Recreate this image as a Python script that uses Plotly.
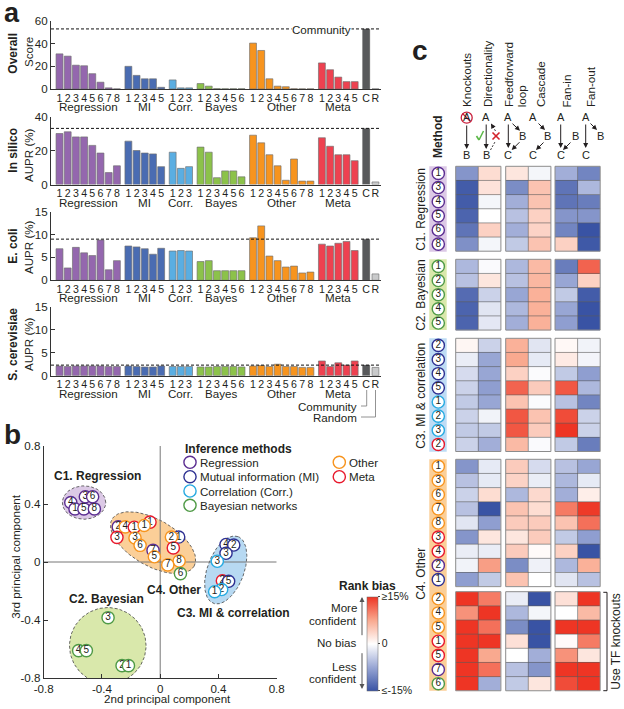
import numpy as np
import plotly.graph_objects as go

W, H = 624, 709
FONT = "Liberation Sans"
INK = "#231f20"

# ---------- panel a data ----------
groups = ["Regression", "MI", "Corr.", "Bayes", "Other", "Meta"]
group_colors = ["#9467ae", "#4a6cb2", "#5aaee2", "#8cc24a", "#f7941e", "#ee4150"]
overall = [[31, 29, 21, 20.5, 13.5, 6, 1, 0.1], [20, 12, 9, 9, 1.5], [8, 1, 1],
           [4.8, 2.5, 0.3, 0.2, 0.2, 0.2], [40.5, 34, 9, 2.5, 2, 0.2, 0.1, 0.1],
           [23, 17, 10.5, 6.5, 6.5]]
in_silico = [[30, 31, 28, 28, 23, 18.5, 7, 11], [25.5, 20, 18.5, 18, 10.5], [19, 9.5, 10.5],
             [22, 19, 4, 8, 8, 4.5], [29, 24.5, 17.5, 11, 2.5, 15, 2, 2],
             [27.5, 22.5, 17.5, 17.5, 14]]
e_coli = [[6.9, 2.7, 7.2, 6, 5.4, 8.8, 2.3, 4.3], [7.5, 7.3, 6.9, 5.7, 7], [6.4, 6.5, 6.4],
          [4.1, 4.3, 2.1, 2.1, 2.1, 2.1], [9.3, 11.9, 5.3, 4.3, 2.9, 3.1, 1.6, 1.8],
          [7.9, 7.5, 8.1, 8.5, 6.5]]
s_cerevisiae = [[2.1, 2, 2.1, 2.1, 2.1, 2.1, 2, 2], [2.1, 2, 1.9, 1.9, 2.1], [2, 2, 2],
                [1.9, 1.9, 2, 2, 2, 1.9], [2.1, 2.2, 2, 2.5, 2, 2, 1.8, 1.8],
                [3.2, 2, 2.8, 2.3, 3.2]]
community = [53, 33, 9, 2.3]
random_pred = [0.1, 1.5, 1.4, 1.8]

# ---------- panel b data ----------
pc_reg = [("4", -0.614, 0.41), ("3", -0.514, 0.45), ("6", -0.464, 0.45),
          ("1", -0.585, 0.366), ("5", -0.524, 0.366), ("8", -0.452, 0.366)]
pc_c4 = [("2", -0.288, 0.242, "reg"), ("1", -0.07, 0.275, "meta"), ("4", -0.24, 0.242, "oth"),
         ("1", -0.178, 0.24, "meta"), ("1", -0.11, 0.252, "oth"), ("3", -0.297, 0.17, "meta"),
         ("3", -0.173, 0.166, "oth"), ("6", -0.138, 0.115, "oth"), ("7", -0.049, 0.08, "reg"),
         ("5", -0.04, 0.036, "oth"), ("1", 0.127, 0.172, "mi"), ("2", 0.077, 0.172, "oth"),
         ("5", 0.09, 0.097, "meta"), ("8", 0.13, 0.007, "oth"), ("7", 0.052, -0.02, "oth"),
         ("6", 0.139, -0.08, "bay")]
pc_c3 = [("4", 0.452, 0.121, "mi"), ("2", 0.505, 0.117, "mi"), ("3", 0.452, 0.06, "mi"),
         ("3", 0.392, 0.005, "cor"), ("2", 0.427, -0.13, "meta"), ("5", 0.47, -0.133, "mi"),
         ("2", 0.422, -0.19, "cor"), ("1", 0.374, -0.205, "cor")]
pc_c2 = [("3", -0.358, -0.384), ("4", -0.56, -0.611), ("5", -0.507, -0.611),
         ("2", -0.262, -0.715), ("1", -0.218, -0.715)]
clusters = [  # centre x, centre y, half axis a, half axis b, angle, fill
    (-0.523, 0.41, 0.149, 0.115, 0, "#dcc9e6"),
    (-0.049, 0.133, 0.325, 0.16, -30, "#fbcf98"),
    (0.45, -0.055, 0.245, 0.126, 70, "#b7d9f2"),
    (-0.36, -0.577, 0.263, 0.263, 0, "#d9e8ab"),
]
ring = {"reg": "#5b2d91", "mi": "#2e3192", "cor": "#27aae1", "bay": "#4f9a46",
        "oth": "#f7941e", "meta": "#e8192c"}
legend_rows = [("reg", "Regression", 190, 198.7, 462.3), ("mi", "Mutual information (MI)", 190, 198.7, 476.7),
               ("cor", "Correlation (Corr.)", 190, 198.7, 491), ("bay", "Bayesian networks", 190, 198.7, 505.3),
               ("oth", "Other", 339.3, 347.7, 462.3), ("meta", "Meta", 339.3, 347.7, 476.7)]

# ---------- panel c data (rank bias, %) ----------
c1_methods = [("reg", "1"), ("reg", "3"), ("reg", "4"), ("reg", "5"), ("reg", "6"), ("reg", "8")]
c1_bias = [[-9, 3, 2.2, -0.8, -6.8, -10.5], [-14.2, 2.5, -9.8, 5.2, -12, -6],
           [-14.2, -0.8, -6.8, 5.2, -12, -11.2], [-13.5, 0, -5.2, 4, -9, -9],
           [-12, 4, -6.8, 3.8, -10.5, -15], [-9.5, -0.8, -4.5, 5.2, 4, -14.5]]
c2_methods = [("bay", "1"), ("bay", "2"), ("bay", "3"), ("bay", "4"), ("bay", "5")]
c2_bias = [[-6, -0.4, -6, 6, -11.2, 12], [-5.2, 2.2, -5.2, 6.3, -7.5, 4],
           [-12.8, -3.8, -7.5, 6.8, -4.5, -14.2], [-13.5, -2.2, -6, 6.8, -7.5, -15],
           [-13.5, -2, -6.8, 6.8, -8.2, -15]]
c3_methods = [("mi", "2"), ("mi", "3"), ("mi", "4"), ("mi", "5"), ("cor", "1"), ("cor", "2"), ("cor", "3"), ("meta", "2")]
c3_bias = [[0.8, -3.8, 6.8, -2.2, 0.6, -1], [-1.5, -7.5, 7.5, -1.8, 1.8, -0.9],
           [-3, -7.5, 4, -0.3, -4.5, -8.2], [-3.8, -8.2, 12, 4.5, 12.8, -6],
           [-4.5, -7.5, 5.2, -0.3, -5.2, -10.5], [-3.8, -1, 12.8, 5.2, 13.5, -3.8],
           [-4.5, -4.5, 12.8, 4.5, 15, -3.8], [-3.8, -6.8, 6, -0.4, -4.5, -11.2]]
c4a_methods = [("oth", "1"), ("oth", "3"), ("oth", "6"), ("oth", "7"), ("oth", "8"), ("meta", "3"), ("meta", "4"), ("reg", "2"), ("mi", "1")]
c4a_bias = [[-9, -1.8, 4.5, -3, -5.2, -7.5], [-5.2, -1.8, 3.8, -1.5, -6, -1.8],
            [-3.8, 3, -6, 3.3, -6.8, 1.5], [-5.2, -15, 5.2, 3, 10.5, 14.7],
            [-2.2, -8.2, 4.5, 4.5, 5.2, 11.2], [-9, 2.2, 2.2, 4.5, -4.5, -8.2],
            [-1.5, -1.5, 4.5, 0.4, 4, -15], [-1, 8.2, -9.8, -1.2, -6, 6.8],
            [-8.2, -4.5, 5.2, 0, -2.2, -5.2]]
c4b_methods = [("oth", "2"), ("oth", "4"), ("oth", "5"), ("meta", "1"), ("meta", "5"), ("reg", "7"), ("bay", "6")]
c4b_bias = [[15, 10.5, -1.5, -15, 2.7, 15], [9, 15, -6, -0.8, 0, 6], [15, 11.2, -9.8, -15, 15, 15],
            [15, 15, 2.7, -15, 0.4, 10.5], [15, 7.5, 0, -6.8, 9, 2.2], [15, 11.2, -5.2, -9, 15, 15],
            [15, -6.8, -4.5, 2.2, 13.5, 15]]
blocks = [(c1_methods, c1_bias, 166.3), (c2_methods, c2_bias, 259.3), (c3_methods, c3_bias, 338.3),
          (c4a_methods, c4a_bias, 459.3), (c4b_methods, c4b_bias, 591.7)]
col_edges = [455.7, 505.7, 555.0]
CW, RH = 22.6, 14.15

fig = go.Figure()
annos, shapes = [], []


def text(s, x, y, size=11.6, bold=False, anchor="center", angle=0, color=INK, valign="middle", **kw):
    annos.append(dict(text=f"<b>{s}</b>" if bold else s, x=x, y=y, xref="x6", yref="y6", showarrow=False,
                      font=dict(family=FONT, size=size, color=color), xanchor=anchor, yanchor=valign,
                      textangle=angle, borderpad=0, **kw))


def line(x0, y0, x1, y1, color=INK, width=1, dash=None):
    shapes.append(dict(type="line", xref="x6", yref="y6", x0=x0, y0=y0, x1=x1, y1=y1,
                       line=dict(color=color, width=width, dash=dash or "solid")))


def arrow(x0, y0, x1, y1, color=INK, width=1, dash=False):
    annos.append(dict(x=x1, y=y1, ax=x0, ay=y0, xref="x6", yref="y6", axref="x6", ayref="y6", text="",
                      showarrow=True, arrowhead=2, arrowsize=1, arrowwidth=width, arrowcolor=color))


# ---------- panel a ----------
slot_gap = 0.4
positions, p = [], 0.0
for g in overall:
    positions.append([p + i for i in range(len(g))])
    p = positions[-1][-1] + 1 + slot_gap
c_pos, r_pos = p, p + 1.13
xlo, xhi = -8.5 / 8.2, (381 - 59.5) / 8.2
tickx = [v for g in positions for v in g] + [c_pos, r_pos]
tickt = [str(i + 1) for g in positions for i in range(len(g))] + ["C", "R"]
panels = [(overall, 0, 60, [0, 20, 40, 60], 21, 89), (in_silico, 1, 40, [0, 20, 40], 116.5, 184.5),
          (e_coli, 2, 15, [0, 5, 10, 15], 211.7, 280.3), (s_cerevisiae, 3, 15, [0, 5, 10, 15], 306.7, 375.7)]
layout = {}
axfont = dict(family=FONT, size=11.6, color=INK)
digitfont = dict(family=FONT, size=10.6, color=INK)
edge = "rgba(110,110,110,0.65)"
for n, (vals, k, top, yt, ptop, pbot) in enumerate(panels, start=1):
    sx = "" if n == 1 else str(n)
    for ci, g in enumerate(vals):
        fig.add_trace(go.Bar(x=positions[ci], y=g, width=0.84, marker=dict(color=group_colors[ci], line=dict(color=edge, width=1)),
                             xaxis=f"x{sx}", yaxis=f"y{sx}", showlegend=False))
    fig.add_trace(go.Bar(x=[c_pos], y=[community[k]], width=0.9, marker=dict(color="#58595b", line=dict(color=edge, width=0.5)),
                         xaxis=f"x{sx}", yaxis=f"y{sx}", showlegend=False))
    fig.add_trace(go.Bar(x=[r_pos], y=[random_pred[k]], width=0.84, marker=dict(color="#c9cacb", line=dict(color=edge, width=1)),
                         xaxis=f"x{sx}", yaxis=f"y{sx}", showlegend=False))
    layout[f"xaxis{sx}"] = dict(domain=[51 / W, 381 / W], range=[xlo, xhi], tickvals=tickx, ticktext=tickt, tickangle=0,
                                showgrid=False, zeroline=False, showline=True, linecolor="#333", linewidth=1, ticks="",
                                tickfont=digitfont, ticklabelstandoff=-1, anchor=f"y{sx}")
    layout[f"yaxis{sx}"] = dict(domain=[1 - pbot / H, 1 - ptop / H], range=[0, top], tickvals=yt, showgrid=False, zeroline=False,
                                showline=True, linecolor="#333", linewidth=1, ticks="inside", ticklen=4, tickcolor="#333",
                                tickfont=axfont, anchor=f"x{sx}")
    shapes.append(dict(type="line", xref=f"x{sx} domain", yref=f"y{sx}", x0=0, x1=1, y0=community[k], y1=community[k],
                       line=dict(color="#111", width=1, dash="3px,2px")))
    glabel_y = pbot + 17.5
    for ci, name in enumerate(groups):
        annos.append(dict(text=name, x=float(np.mean(positions[ci])), y=glabel_y, xref=f"x{sx}", yref="y6", showarrow=False,
                          font=dict(family=FONT, size=11.6, color=INK), xanchor="center", yanchor="middle", borderpad=0))

text("Overall", 12.7, 53, 12, True, angle=-90)
text("Score", 28, 52, 11.6, angle=-90)
text("In silico", 12.7, 150, 12, True, angle=-90)
text("AUPR (%)", 28, 155, 11.6, angle=-90)
text("E. coli", 12.7, 246, 12, True, angle=-90)
text("AUPR (%)", 28, 247, 11.6, angle=-90)
text("S. cerevisiae", 12.7, 344, 12, True, angle=-90)
text("AUPR (%)", 28, 344, 11.6, angle=-90)
text("Community", 321, 29.3, 11.6, bgcolor="white")
text("Community", 358, 406, 11.6, anchor="right")
text("Random", 358, 417.5, 11.6, anchor="right")
for a, b, c, d in [(361, 406, 366.7, 406), (366.7, 406, 366.7, 390), (361, 417, 375.5, 417), (375.5, 417, 375.5, 390)]:
    line(a, b, c, d, "#777", 0.8)
text("a", 3, 12.5, 27, True, anchor="left")
text("b", 3, 434, 28, True, anchor="left")
text("c", 411, 50, 28, True, anchor="left")

# ---------- panel b ----------
layout["xaxis5"] = dict(domain=[43.7 / W, 276.7 / W], range=[-0.8, 0.8], tickvals=[-0.8, -0.4, 0, 0.4, 0.8],
                        ticktext=["-0.8", "-0.4", "0", "0.4", "0.8"], showgrid=False, zeroline=False, showline=True,
                        linecolor="#333", ticks="inside", ticklen=4, tickcolor="#333", tickfont=axfont, anchor="y5")
layout["yaxis5"] = dict(domain=[1 - 678 / H, 1 - 446 / H], range=[-0.8, 0.8], tickvals=[-0.8, -0.4, 0, 0.4, 0.8],
                        ticktext=["-0.8", "-0.4", "0", "0.4", "0.8"], showgrid=False, zeroline=False, showline=True,
                        linecolor="#333", ticks="inside", ticklen=4, tickcolor="#333", tickfont=axfont, anchor="x5")
t = np.linspace(0, 2 * np.pi, 121)
for cx, cy, a, b, ang, col in clusters:
    th = np.radians(ang)
    ex = cx + a * np.cos(t) * np.cos(th) - b * np.sin(t) * np.sin(th)
    ey = cy + a * np.cos(t) * np.sin(th) + b * np.sin(t) * np.cos(th)
    fig.add_trace(go.Scatter(x=ex, y=ey, mode="lines", fill="toself", fillcolor=col,
                             line=dict(color="#444", width=0.8, dash="3px,2px"), xaxis="x5", yaxis="y5",
                             showlegend=False, hoverinfo="skip"))
for xs, ys in [([0, 0], [-0.8, 0.8]), ([-0.8, 0.8], [0, 0])]:
    fig.add_trace(go.Scatter(x=xs, y=ys, mode="lines", line=dict(color="#777", width=1), xaxis="x5", yaxis="y5",
                             showlegend=False, hoverinfo="skip"))


def ring_pt(x, y, label, key, ax="5"):
    fig.add_trace(go.Scatter(x=[x], y=[y], mode="markers+text" if label else "markers", text=[label], textposition="middle center",
                             marker=dict(size=12.2, color="white", line=dict(color=ring[key], width=1.4)),
                             textfont=dict(family=FONT, size=10, color=INK), xaxis=f"x{ax}", yaxis=f"y{ax}",
                             showlegend=False, cliponaxis=False, hoverinfo="skip"))


for lab, x, y in pc_reg:
    ring_pt(x, y, lab, "reg")
for lab, x, y, key in pc_c4 + pc_c3:
    ring_pt(x, y, lab, key)
for lab, x, y in pc_c2:
    ring_pt(x, y, lab, "bay")

text("C1. Regression", 52.7, 476, 12, True, anchor="left")
text("C2. Bayesian", 67.7, 598.7, 12, True, anchor="left")
text("C4. Other", 145.7, 590, 12, True, anchor="left")
text("C3. MI &amp; correlation", 176.3, 613, 12, True, anchor="left")
text("Inference methods", 184.3, 448.7, 12, True, anchor="left")
text("2nd principal component", 167.7, 698.7, 11.6)
text("3rd principal component", 16, 556.7, 11.6, angle=-90)
for key, name, rx, tx, ry in legend_rows:
    ring_pt(rx, ry, "", key, "6")
    text(name, tx, ry, 11.6, anchor="left")

text("Rank bias", 367, 585.7, 12, True)
text("More", 358.3, 607.7, 11.6, anchor="right")
text("confident", 358.3, 620, 11.6, anchor="right")
text("No bias", 358.3, 642.3, 11.6, anchor="right")
text("Less", 358.3, 666.7, 11.6, anchor="right")
text("confident", 358.3, 678.7, 11.6, anchor="right")
arrow(362, 636.7, 362, 597, "#555", 1)
arrow(362, 651.7, 362, 689, "#555", 1)

# ---------- panel c ----------
strip_fill = ["#dcc9e6", "#d9e8ab", "#bedcf5", "#fbcf98"]
strips = [(166.3, 251.7, 0), (259.3, 330, 1), (338.3, 451.7, 2), (459.3, 690.8, 3)]
for y0, y1, i in strips:
    shapes.append(dict(type="rect", xref="x6", yref="y6", x0=429.3, x1=446.7, y0=y0, y1=y1,
                       line=dict(width=0), fillcolor=strip_fill[i], layer="below"))

for methods, bias, y0 in blocks:
    z = np.array(bias, dtype=float)
    for gi, xl in enumerate(col_edges):
        fig.add_trace(go.Heatmap(z=z[:, 2 * gi:2 * gi + 2], x0=xl + CW / 2, dx=CW, y0=y0 + RH / 2, dy=RH,
                                 coloraxis="coloraxis", xaxis="x6", yaxis="y6", hoverinfo="skip"))
        for r in range(1, len(methods)):
            line(xl, y0 + r * RH, xl + 2 * CW, y0 + r * RH, "#5a5a5a", 0.6)
        line(xl + CW, y0, xl + CW, y0 + RH * len(methods), "#5a5a5a", 0.6)
        shapes.append(dict(type="rect", xref="x6", yref="y6", x0=xl, x1=xl + 2 * CW, y0=y0, y1=y0 + RH * len(methods),
                           line=dict(color="#8c8c8c", width=1)))
    for r, (key, lab) in enumerate(methods):
        ring_pt(438.3, y0 + (r + 0.5) * RH, lab, key, "6")

hdr = [("Knockouts", 466.7), ("Directionality", 487.3), ("Feedforward", 508.3), ("loop", 521), ("Cascade", 540.7),
       ("Fan-in", 566.7), ("Fan-out", 590.3)]
for name, x in hdr:
    text(name, x, 108.3, 11.6, angle=-90, valign="bottom")
text("Method", 437.3, 159.3, 12, True, angle=-90, valign="bottom")
text("C1. Regression", 420.8, 209, 12, angle=-90)
text("C2. Bayesian", 420.8, 295, 12, angle=-90)
text("C3. MI &amp; correlation", 420.8, 396, 12, angle=-90)
text("C4. Other", 420.8, 574, 12, angle=-90)
text("Use TF knockouts", 616, 641.7, 12, angle=-90)
for a, b, c, d in [(603.3, 592.3, 607, 592.3), (607, 592.3, 607, 690.7), (603.3, 690.7, 607, 690.7)]:
    line(a, b, c, d, INK, 1)

for s, x, y in [("A", 466.7, 117.3), ("B", 466.7, 155), ("A", 486.3, 117.3), ("B", 486.3, 155),
                ("A", 508.3, 117.3), ("B", 522.7, 136), ("C", 508.3, 155),
                ("A", 533, 117.3), ("B", 547, 136), ("C", 533, 155),
                ("A", 560.7, 117.3), ("B", 575, 136), ("C", 560.7, 155),
                ("A", 585.7, 117.3), ("B", 600, 136), ("C", 585.7, 155)]:
    text(s, x, y, 11)
for a in [(466.7, 124, 466.7, 149), (486.2, 123, 486.2, 149), (508.3, 123, 508.3, 148), (511, 122.3, 520, 130.7),
          (521, 140.7, 511.7, 150), (537, 122, 545, 130), (545, 141, 536, 150), (560.7, 123, 560.7, 148),
          (572, 141, 563, 150), (585.7, 123, 585.7, 148), (589, 122, 597, 130)]:
    arrow(*a)
# Knockout mark, dashed return arrow, tick and cross
fig.add_trace(go.Scatter(x=[466.7], y=[117.7], mode="markers", marker=dict(size=11, color="rgba(0,0,0,0)", line=dict(color="#c8203c", width=1.3)),
                         xaxis="x6", yaxis="y6", showlegend=False, hoverinfo="skip"))
line(462.5, 113.5, 471, 122, "#c8203c", 1.3)
line(490.5, 150, 495.5, 141, INK, 0.9, "2px,1.5px")
line(495.5, 131, 492, 125, INK, 0.9, "2px,1.5px")
arrow(493, 127, 491, 123.5)
line(492.5, 132.5, 499.5, 139.5, "#d2232a", 1.6)
line(499.5, 132.5, 492.5, 139.5, "#d2232a", 1.6)
line(476.5, 136, 479, 140, "#5cb848", 1.6)
line(479, 140, 483.5, 131, "#5cb848", 1.6)

layout["xaxis6"] = dict(domain=[0, 1], range=[0, W], visible=False, anchor="y6", fixedrange=True)
layout["yaxis6"] = dict(domain=[0, 1], range=[H, 0], visible=False, anchor="x6", fixedrange=True)

fig.update_layout(
    width=W, height=H, margin=dict(l=0, r=0, t=0, b=0, pad=0, autoexpand=False), paper_bgcolor="white", plot_bgcolor="rgba(0,0,0,0)",
    showlegend=False, barmode="overlay", font=dict(family=FONT, color=INK), annotations=annos, shapes=shapes,
    coloraxis=dict(cmin=-15, cmax=15,
                   colorscale=[[0, "#3953a4"], [0.25, "#98a6d4"], [0.5, "#ffffff"], [0.75, "#f9a98f"], [1, "#ee3524"]],
                   colorbar=dict(x=367 / W, xanchor="left", y=1 - 690.7 / H, yanchor="bottom", len=94, lenmode="pixels",
                                 thickness=10.7, thicknessmode="pixels", xpad=0, ypad=0, tickvals=[-15, 0, 15],
                                 ticktext=["≤-15%", "0", "≥15%"], ticks="outside", ticklen=2, tickfont=dict(family=FONT, size=10.5, color=INK),
                                 outlinewidth=0.5, outlinecolor="#666")),
    **layout,
)
fig.write_html("out.html", config=dict(displayModeBar=False),
               post_script="document.body.style.margin='0';document.documentElement.style.overflow='hidden';")
